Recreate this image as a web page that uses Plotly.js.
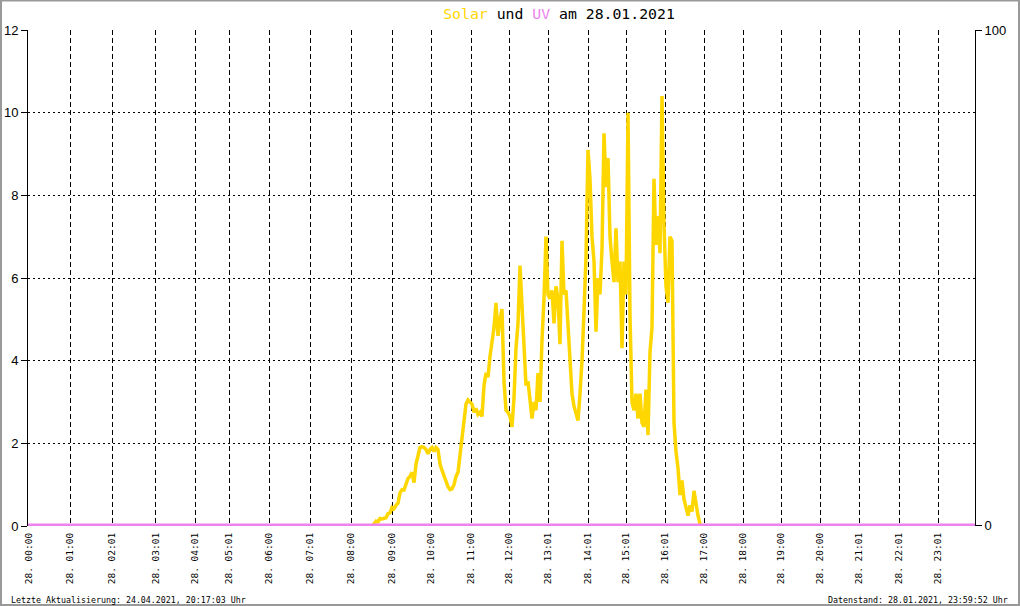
<!DOCTYPE html>
<html>
<head>
<meta charset="utf-8">
<script src="https://cdn.plot.ly/plotly-3.0.1.min.js"></script>
<style>html,body{margin:0;padding:0;background:#fff;}#chart{width:1020px;height:606px;}</style>
</head>
<body>
<div id="chart"></div>
<script>
// Tick labels of the time axis and their sample index along the axis
const tickLabels = ['28. 00:00','28. 01:00','28. 02:01','28. 03:01','28. 04:01','28. 05:01','28. 06:00','28. 07:01',
  '28. 08:00','28. 09:00','28. 10:00','28. 11:00','28. 12:00','28. 13:01','28. 14:01','28. 15:01','28. 16:01',
  '28. 17:00','28. 18:00','28. 19:00','28. 20:00','28. 21:01','28. 22:01','28. 23:01'];
const tickIndex = [1, 42, 84, 127.5, 167, 201, 241, 282, 323, 364, 403, 443, 481, 520, 560, 598, 637, 676, 715, 753, 792, 831, 871, 910];
const sampleCount = 947;

// Solar readings (every 2nd sample) starting at sample 344
const solarStart = 344;
const solarStep = 2;
const solarValues = [
  0, 0.05, 0.12, 0.1, 0.18, 0.17, 0.18, 0.2, 0.3, 0.32,
  0.45, 0.42, 0.5, 0.55, 0.8, 0.88, 0.87, 1.05, 1.15, 1.2,
  1.3, 1.05, 1.5, 1.7, 1.9, 1.92, 1.9, 1.85, 1.75, 1.85,
  1.9, 1.8, 1.9, 1.85, 1.5, 1.35, 1.2, 1.05, 0.95, 0.88,
  0.9, 1.0, 1.2, 1.3, 1.75, 2.1, 2.5, 2.95, 3.05, 3.0,
  2.95, 2.75, 2.85, 2.7, 2.75, 2.65, 3.4, 3.7, 3.6, 4.1,
  4.5, 4.8, 5.4, 4.6, 5.0, 5.25, 3.5, 2.8, 2.75, 2.65,
  2.4, 3.1, 4.3, 4.9, 6.3, 5.2, 4.2, 3.4, 3.5, 3.1,
  2.6, 3.0, 2.8, 3.7, 3.0, 4.5, 5.5, 7.0, 5.6, 5.5,
  5.7, 4.9, 5.8, 5.5, 4.4, 6.9, 5.6, 5.7, 4.8, 4.0,
  3.2, 2.9, 2.7, 2.55, 3.2, 4.0, 5.2, 6.5, 9.1, 8.4,
  7.0, 6.4, 4.7, 6.0, 5.6, 6.7, 9.5, 8.2, 8.9, 7.0,
  6.4, 5.9, 7.2, 5.9, 6.4, 4.3, 6.4, 5.6, 10.0, 5.1,
  3.0, 2.8, 3.2, 2.6, 3.2, 2.5, 2.4, 3.3, 2.2, 4.2,
  4.8, 8.4, 6.8, 7.5, 6.6, 10.4, 7.3, 5.8, 5.4, 7.0,
  6.9, 2.5, 1.8, 1.4, 0.75, 1.1, 0.65, 0.4, 0.25, 0.5,
  0.35, 0.85, 0.5, 0.25, 0.05, 0
];
// UV readings: zero all day
const uvValues = [0, 0];
const uvIndex = [0, 947];

const titleParts = {solar: 'Solar', und: 'und', uv: 'UV', rest: 'am 28.01.2021'};
const footerLeft = 'Letzte Aktualisierung: 24.04.2021, 20:17:03 Uhr';
const footerRight = 'Datenstand: 28.01.2021, 23:59:52 Uhr';

const solarX = [0], solarY = [0];
solarValues.forEach((v, i) => { solarX.push(solarStart + i * solarStep); solarY.push(v); });
solarX.push(sampleCount); solarY.push(0);

const mono = 'DejaVu Sans Mono, monospace';
const W = 1020, H = 606, L = 28, R = 45, T = 30, B = 80;
const pw = W - L - R, ph = H - T - B;
const px2paper = x => (x - L) / pw;
const py2paper = y => (H - B - y) / ph;

const traces = [
  {x: solarX, y: solarY, type: 'scatter', mode: 'lines', line: {color: '#FFD700', width: 3.5}, hoverinfo: 'skip'},
  {x: uvIndex, y: uvValues, type: 'scatter', mode: 'lines', yaxis: 'y2', line: {color: '#EE82EE', width: 3}, hoverinfo: 'skip'}
];

const layout = {
  width: W, height: H,
  margin: {l: L, r: R, t: T, b: B, pad: 0},
  paper_bgcolor: '#ffffff', plot_bgcolor: '#ffffff',
  showlegend: false,
  title: {
    text: '<span style="color:#FFD700">' + titleParts.solar + '</span> ' + titleParts.und +
          ' <span style="color:#EE82EE">' + titleParts.uv + '</span> ' + titleParts.rest,
    font: {family: mono, size: 14.8, color: '#000'},
    xref: 'container', x: 559 / W, xanchor: 'center',
    yref: 'container', y: 1 - 13.5 / H, yanchor: 'middle'
  },
  xaxis: {
    range: [0, sampleCount], tickmode: 'array', tickvals: tickIndex, ticktext: tickLabels,
    tickangle: -90, tickfont: {family: mono, size: 9.5, color: '#000'},
    ticks: 'outside', ticklen: 2, tickcolor: 'rgba(0,0,0,0)',
    showgrid: true, gridcolor: '#000', gridwidth: 1, griddash: '5px,3px',
    zeroline: false, showline: false, fixedrange: true
  },
  yaxis: {
    range: [0, 12], tickmode: 'array', tickvals: [0, 2, 4, 6, 8, 10, 12],
    tickfont: {family: 'Liberation Sans, Arial, sans-serif', size: 13, color: '#000'},
    ticks: 'outside', ticklen: 6, tickcolor: '#000', tickwidth: 1,
    showgrid: true, gridcolor: '#000', gridwidth: 1, griddash: '2px,3px',
    zeroline: false, showline: true, linecolor: '#000', linewidth: 1, fixedrange: true
  },
  yaxis2: {
    range: [-0.2, 100], overlaying: 'y', side: 'right', tickmode: 'array', tickvals: [0, 100],
    tickfont: {family: 'Liberation Sans, Arial, sans-serif', size: 13, color: '#000'},
    ticks: 'outside', ticklen: 6, tickcolor: '#000', tickwidth: 1,
    showgrid: false, zeroline: false, showline: true, linecolor: '#000', linewidth: 1, fixedrange: true
  },
  annotations: [
    {text: footerLeft, xref: 'paper', yref: 'paper', x: px2paper(9), y: py2paper(600), xanchor: 'left', yanchor: 'middle',
     showarrow: false, font: {family: mono, size: 8.3, color: '#000'}},
    {text: footerRight, xref: 'paper', yref: 'paper', x: px2paper(1010), y: py2paper(600), xanchor: 'right', yanchor: 'middle',
     showarrow: false, font: {family: mono, size: 8.3, color: '#000'}}
  ],
  shapes: [
    {type: 'rect', xref: 'paper', yref: 'paper', x0: px2paper(1), x1: px2paper(1019), y0: py2paper(605), y1: py2paper(0.5),
     line: {color: '#999999', width: 2}, fillcolor: 'rgba(0,0,0,0)', layer: 'above'}
  ]
};

Plotly.newPlot('chart', traces, layout, {displayModeBar: false, staticPlot: true});
</script>
</body>
</html>
